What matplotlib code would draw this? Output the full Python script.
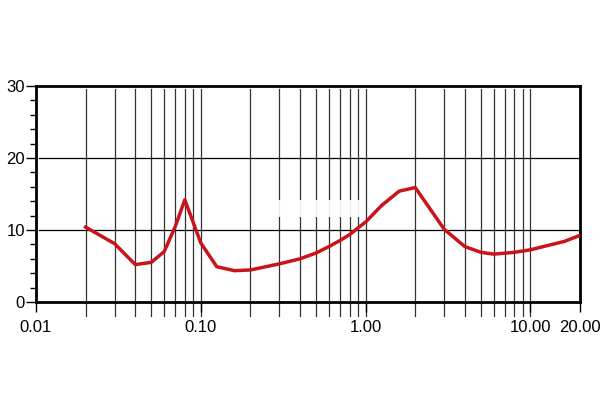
import matplotlib
matplotlib.use("Agg")
import matplotlib.pyplot as plt
from matplotlib.ticker import FixedLocator, NullFormatter, FixedFormatter, MultipleLocator

plt.rcParams['font.family'] = ['Liberation Sans', 'DejaVu Sans']

# Data
x_vals = [0.02, 0.03, 0.04, 0.05, 0.06, 0.07, 0.08, 0.1, 0.125, 0.16, 0.2, 0.3, 0.4, 0.5,
          0.6, 0.7, 0.8, 0.9, 1.0, 1.25, 1.6, 2.0, 3.0, 4.0, 5.0, 6.0, 8.0, 10.0, 12.5, 16.0, 20.0]
y_vals = [10.4, 8.1, 5.2, 5.5, 7.0, 10.5, 14.2, 8.2, 4.9, 4.35, 4.45, 5.3, 6.0, 6.8,
          7.7, 8.55, 9.35, 10.3, 11.1, 13.4, 15.4, 15.9, 10.1, 7.7, 6.9, 6.65, 6.9, 7.25, 7.8, 8.4, 9.25]

x_tick_vals = [0.01, 0.1, 1, 10, 20]
x_tick_labels = ["0.01", "0.10", "1.00", "10.00", "20.00"]
x_grid_vals = [0.02, 0.03, 0.04, 0.05, 0.06, 0.07, 0.08, 0.09, 0.1,
               0.2, 0.3, 0.4, 0.5, 0.6, 0.7, 0.8, 0.9, 1.0,
               2, 3, 4, 5, 6, 7, 8, 9, 10]
y_tick_vals = [0, 10, 20, 30]

fig = plt.figure(figsize=(6, 4.2), dpi=100)
ax = fig.add_axes([36/600, 118/420, 544/600, 216/420])
ax.set_xscale('log')
ax.set_xlim(0.01, 20)
ax.set_ylim(0, 30)

# vertical grid lines (extend slightly below axis like ticks)
for gx in x_grid_vals:
    ax.plot([gx, gx], [-2.0, 29.6], color='#333333', lw=0.9, zorder=1, clip_on=False)
for gy in [10, 20]:
    ax.axhline(gy, xmin=0.006, color='black', lw=0.9, zorder=1)

# partially hidden region (white patch over grid)
ax.axvspan(0.27, 0.95, ymin=(302-217)/216, ymax=(302-200)/216, color='white', alpha=0.9, zorder=2, lw=0)

ax.plot(x_vals, y_vals, color='#c8141a', lw=2.5, zorder=3, solid_joinstyle='round')

ax.xaxis.set_major_locator(FixedLocator(x_tick_vals))
ax.xaxis.set_major_formatter(FixedFormatter(x_tick_labels))
ax.xaxis.set_minor_locator(FixedLocator([]))
ax.xaxis.set_minor_formatter(NullFormatter())
ax.tick_params(axis='x', which='major', length=7, width=1.0, direction='out', labelsize=12, pad=6)

ax.yaxis.set_major_locator(FixedLocator(y_tick_vals))
ax.yaxis.set_minor_locator(MultipleLocator(2))
ax.tick_params(axis='y', which='major', length=7, width=1.0, labelsize=12, pad=1)
ax.tick_params(axis='y', which='minor', length=4, width=1.0)

for s in ax.spines.values():
    s.set_linewidth(2.0)
    s.set_color('black')

fig.savefig('out.png', dpi=100)
